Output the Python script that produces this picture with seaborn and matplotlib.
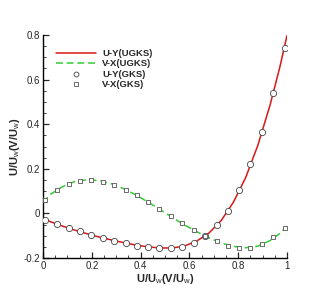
import numpy as np
import pandas as pd
import matplotlib
matplotlib.use("Agg")
import matplotlib.pyplot as plt
import seaborn as sns
from matplotlib.ticker import MultipleLocator, FuncFormatter
from matplotlib.lines import Line2D

# GKS sample points
x_gks = [0.007, 0.057, 0.105, 0.153, 0.196, 0.244, 0.292, 0.338, 0.384, 0.429, 0.477,
         0.523, 0.569, 0.619, 0.665, 0.713, 0.757, 0.804, 0.849, 0.898, 0.944, 0.990]
uy_gks = [-0.030, -0.047, -0.066, -0.081, -0.096, -0.110, -0.122, -0.134, -0.144, -0.152, -0.156,
          -0.156, -0.149, -0.132, -0.101, -0.054, 0.012, 0.104, 0.221, 0.367, 0.541, 0.742]
vx_gks = [0.062, 0.104, 0.134, 0.146, 0.150, 0.143, 0.129, 0.105, 0.081, 0.053, 0.021,
          -0.012, -0.044, -0.074, -0.101, -0.126, -0.144, -0.153, -0.153, -0.138, -0.108, -0.066]

# UGKS curves
x_ugks = [0.0, 0.03, 0.08, 0.13, 0.18, 0.23, 0.28, 0.33, 0.38, 0.43, 0.48, 0.53, 0.58,
          0.63, 0.68, 0.73, 0.78, 0.83, 0.88, 0.93, 0.97, 1.0]
uy_ugks = [-0.022, -0.037, -0.057, -0.075, -0.091, -0.106, -0.119, -0.131, -0.142, -0.150, -0.155,
           -0.155, -0.146, -0.124, -0.088, -0.032, 0.050, 0.160, 0.305, 0.485, 0.655, 0.800]
vx_ugks = [0.050, 0.085, 0.120, 0.143, 0.151, 0.147, 0.133, 0.111, 0.083, 0.051, 0.017,
           -0.018, -0.052, -0.082, -0.110, -0.133, -0.148, -0.154, -0.147, -0.122, -0.090, -0.058]

labels = ["U-Y(UGKS)", "V-X(UGKS)", "U-Y(GKS)", "V-X(GKS)"]
axis_label = "U/U$_{\\mathrm{w}}$(V/U$_{\\mathrm{w}}$)"

sns.set_style("ticks")
plt.rcParams['font.family'] = ['Liberation Sans', 'DejaVu Sans']
plt.rcParams['mathtext.fontset'] = 'custom'
plt.rcParams['mathtext.rm'] = 'Liberation Sans'

fig = plt.figure(figsize=(3.27, 2.91), dpi=100)
ax = fig.add_axes([0.1315, 0.1134, 0.7465, 0.7663])

red = "#d81818"
green = "#33cc33"

sns.lineplot(x=x_ugks, y=uy_ugks, ax=ax, color=red, linewidth=1.1, sort=False, zorder=2)
sns.lineplot(x=x_ugks, y=vx_ugks, ax=ax, color=green, linewidth=1.1, sort=False,
             linestyle=(0, (4.5, 2.5)), zorder=2)
sns.scatterplot(x=x_gks, y=uy_gks, ax=ax, marker='o', s=20, facecolor='white',
                edgecolor='#444444', linewidth=0.6, zorder=3)
sns.scatterplot(x=x_gks, y=vx_gks, ax=ax, marker='s', s=10, facecolor='white',
                edgecolor='#555555', linewidth=0.6, zorder=3)

ax.set_xlim(0, 1)
ax.set_ylim(-0.2, 0.8)
ax.xaxis.set_major_locator(MultipleLocator(0.2))
ax.xaxis.set_minor_locator(MultipleLocator(0.05))
ax.yaxis.set_major_locator(MultipleLocator(0.2))
ax.yaxis.set_minor_locator(MultipleLocator(0.05))
fmt = FuncFormatter(lambda v, p: "%g" % round(v, 3))
ax.xaxis.set_major_formatter(fmt)
ax.yaxis.set_major_formatter(fmt)
ax.tick_params(which='major', direction='in', length=4, width=0.9, labelsize=7, pad=2)
ax.tick_params(which='minor', direction='in', length=2, width=0.6)
for s in ['top', 'right']:
    ax.spines[s].set_visible(False)
for s in ['left', 'bottom']:
    ax.spines[s].set_linewidth(1.0)
    ax.spines[s].set_color('black')

ax.set_xlabel(axis_label, fontsize=8, fontweight='bold', labelpad=1)
ax.set_ylabel(axis_label, fontsize=8, fontweight='bold', labelpad=1)

handles = [
    Line2D([], [], color=red, linewidth=1.1),
    Line2D([], [], color=green, linewidth=1.1, linestyle=(0, (4.5, 2.5))),
    Line2D([], [], marker='o', linestyle='none', markersize=3.5, markerfacecolor='white',
           markeredgecolor='#444444', markeredgewidth=0.6),
    Line2D([], [], marker='s', linestyle='none', markersize=2.6, markerfacecolor='white',
           markeredgecolor='#555555', markeredgewidth=0.6),
]
ax.legend(handles, labels, loc='upper left', bbox_to_anchor=(0.02, 0.975), frameon=False,
          prop={'size': 6.8, 'weight': 'bold'}, handlelength=4.2, handletextpad=0.65,
          labelspacing=0.15, numpoints=1)

fig.savefig("out.png", dpi=100)
